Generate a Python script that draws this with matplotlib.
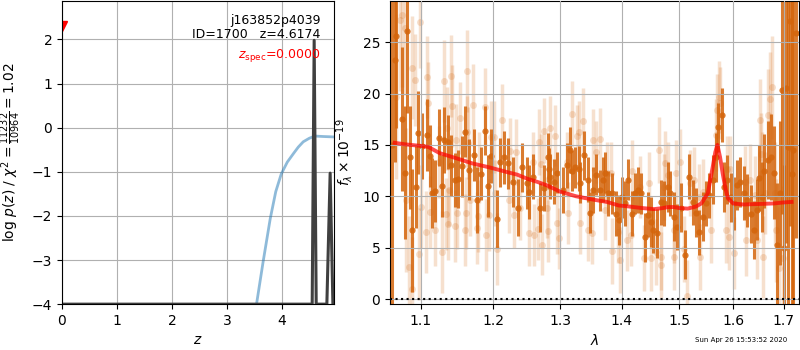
import matplotlib
matplotlib.use('Agg')
import matplotlib.pyplot as plt
from matplotlib.ticker import NullLocator

# ---- left panel: redshift PDF ----
z_chi2 = [3.45, 3.54, 3.66, 3.79, 3.89, 3.99, 4.10, 4.21, 4.30, 4.39, 4.50, 4.60, 4.75, 4.95]
logp_chi2 = [-4.6, -4.0, -3.04, -2.06, -1.45, -1.05, -0.78, -0.59, -0.44, -0.32, -0.24, -0.19, -0.20, -0.21]

z_pdf = [0.0, 4.553, 4.589, 4.626, 4.82, 4.88, 4.93, 4.95]
logp_pdf = [-4.0, -4.0, 1.98, -4.0, -4.0, -1.03, -4.0, -4.0]

z_spec = 0.0
target = 'j163852p4039'
obj_id = 1700
z_best = 4.6174

# ---- right panel: spectrum ----
# darker points
lam_a = [1.062, 1.066, 1.068, 1.075, 1.079, 1.082, 1.086, 1.089, 1.093, 1.096,
         1.101, 1.108, 1.1125, 1.115, 1.119, 1.124, 1.128, 1.131, 1.136, 1.140,
         1.146, 1.150, 1.156, 1.160, 1.165, 1.172, 1.176, 1.182, 1.1875, 1.192,
         1.197, 1.2045, 1.209, 1.215, 1.221, 1.228, 1.236, 1.242, 1.249, 1.252,
         1.258, 1.269, 1.275, 1.281, 1.282, 1.285, 1.291, 1.2955, 1.305, 1.310,
         1.316, 1.319, 1.324, 1.329, 1.332, 1.337, 1.3435, 1.347, 1.353, 1.3565,
         1.363, 1.368, 1.3725, 1.377, 1.384, 1.390, 1.395, 1.400, 1.405, 1.4105,
         1.4175, 1.423, 1.428, 1.433, 1.4385, 1.444, 1.449, 1.454, 1.461, 1.468,
         1.472, 1.479, 1.484, 1.4895, 1.4965, 1.502, 1.511, 1.517, 1.524, 1.530,
         1.535, 1.543, 1.548, 1.554, 1.561, 1.567, 1.572, 1.578, 1.5815, 1.589,
         1.596, 1.602, 1.608, 1.614, 1.620, 1.6275, 1.635, 1.641, 1.647, 1.651,
         1.657, 1.661, 1.669, 1.6745, 1.680, 1.686, 1.692, 1.696, 1.700, 1.704,
         1.708, 1.712, 1.716, 1.720, 1.725]
flux_a = [15.0, 23.3, 25.6, 17.5, 12.3, 26.1, 13.8, 6.7, 10.9, 16.2,
          14.9, 16.0, 13.9, 10.3, 10.5, 15.7, 11.0, 15.5, 15.3, 13.0,
          11.6, 11.7, 12.9, 16.3, 12.6, 14.0, 9.6, 12.2, 16.4, 11.0,
          13.9, 7.8, 13.3, 13.8, 13.2, 11.4, 8.9, 12.8, 11.3, 10.4,
          11.9, 8.9, 10.8, 13.8, 12.7, 11.9, 11.4, 12.3, 10.6, 13.0,
          14.5, 12.5, 12.8, 12.7, 11.3, 14.0, 11.6, 8.4, 10.6, 12.1,
          10.6, 11.6, 12.3, 10.3, 10.3, 8.3, 7.7, 9.9, 9.3, 11.6,
          8.3, 10.3, 10.6, 10.3, 6.0, 8.2, 7.5, 6.7, 6.4, 9.4,
          9.3, 10.9, 10.3, 8.0, 7.0, 8.9, 4.3, 11.9, 9.4, 8.4,
          6.5, 8.0, 9.3, 10.1, 11.6, 13.8, 16.7, 17.9, 10.9, 11.6,
          9.9, 9.3, 11.1, 11.4, 10.3, 9.6, 8.3, 6.7, 8.7, 11.8,
          9.9, 12.5, 13.5, 13.8, 12.3, 5.3, 10.3, 20.3, 5.0, 20.5,
          14.8, 27.1, 12.2, 14.5, 25.9]
err_a = [16.0, 10.0, 9.0, 7.0, 6.5, 8.0, 5.0, 6.0, 4.0, 4.0,
         3.2, 3.5, 3.0, 3.4, 3.0, 2.8, 3.0, 3.2, 2.6, 3.0,
         2.6, 2.8, 3.0, 2.5, 3.0, 2.5, 3.2, 2.6, 2.4, 3.0,
         2.6, 2.8, 2.4, 2.6, 2.5, 2.4, 2.8, 2.4, 2.5, 2.6,
         2.2, 2.4, 2.2, 2.4, 2.0, 2.2, 2.2, 2.0, 2.2, 2.2,
         2.2, 2.0, 2.0, 2.2, 2.0, 2.4, 2.2, 2.0, 2.2, 2.0,
         2.0, 2.2, 2.0, 2.2, 2.0, 2.2, 2.4, 2.0, 2.2, 2.0,
         2.2, 2.0, 2.2, 2.0, 2.4, 2.2, 2.4, 2.2, 2.4, 2.2,
         2.2, 2.4, 2.2, 2.4, 2.2, 2.4, 2.4, 2.2, 2.2, 2.4,
         2.2, 2.4, 2.2, 2.2, 2.4, 2.4, 2.4, 2.6, 2.4, 2.4,
         2.4, 2.6, 2.4, 2.4, 2.6, 2.6, 2.8, 2.8, 3.0, 3.2,
         3.4, 3.6, 3.8, 4.2, 4.5, 6.0, 7.0, 12.0, 8.0, 15.0,
         16.0, 20.0, 20.0, 20.0, 20.0]

# lighter points
lam_b = [1.068, 1.073, 1.076, 1.079, 1.080, 1.084, 1.088, 1.089, 1.092, 1.099,
         1.098, 1.100, 1.107, 1.108, 1.110, 1.1125, 1.119, 1.124, 1.128, 1.1306,
         1.133, 1.135, 1.136, 1.1375, 1.140, 1.1417, 1.146, 1.147, 1.1486, 1.153,
         1.160, 1.161, 1.1625, 1.163, 1.164, 1.1667, 1.171, 1.176, 1.178, 1.179,
         1.1875, 1.190, 1.194, 1.196, 1.2015, 1.203, 1.2045, 1.212, 1.2224, 1.224,
         1.230, 1.233, 1.239, 1.252, 1.258, 1.2597, 1.2657, 1.267, 1.270, 1.2716,
         1.2746, 1.279, 1.2806, 1.2836, 1.2925, 1.2955, 1.2985, 1.311, 1.313, 1.319,
         1.326, 1.329, 1.332, 1.3355, 1.345, 1.350, 1.353, 1.3565, 1.3645, 1.3726,
         1.376, 1.381, 1.3839, 1.3935, 1.3968, 1.4088, 1.4158, 1.4175, 1.430, 1.4368,
         1.4456, 1.449, 1.458, 1.463, 1.4667, 1.467, 1.472, 1.4737, 1.4789, 1.4895,
         1.491, 1.493, 1.5019, 1.509, 1.513, 1.5185, 1.526, 1.535, 1.537, 1.5426,
         1.5574, 1.5667, 1.570, 1.5725, 1.574, 1.587, 1.5889, 1.5926, 1.5944, 1.602,
         1.6235, 1.6255, 1.6333, 1.643, 1.647, 1.653, 1.655, 1.657, 1.659, 1.6627,
         1.6686, 1.6725, 1.6765, 1.6824, 1.684, 1.690, 1.698]
flux_b = [19.7, 27.2, 27.6, 26.4, 9.6, 3.1, 22.5, 1.0, 21.3, 27.0,
          4.4, 9.0, 6.5, 21.6, 19.1, 8.5, 6.7, 13.3, 4.6, 21.2,
          8.3, 16.6, 7.3, 10.6, 21.7, 18.8, 7.1, 15.5, 8.4, 17.6,
          6.7, 8.4, 22.2, 16.3, 15.2, 9.6, 18.9, 6.9, 8.1, 12.8,
          18.7, 6.2, 8.2, 15.8, 15.8, 10.3, 4.9, 17.4, 9.6, 14.4,
          8.2, 14.3, 8.9, 6.4, 13.3, 6.2, 6.8, 15.3, 13.1, 5.3,
          16.4, 8.9, 6.6, 16.6, 15.9, 7.4, 5.9, 13.3, 8.4, 18.0,
          15.9, 16.3, 7.4, 17.3, 6.7, 6.4, 15.5, 14.3, 15.6, 8.7,
          12.3, 12.3, 4.7, 6.5, 3.8, 5.7, 6.2, 12.5, 10.9, 4.0,
          11.3, 4.0, 4.6, 14.5, 4.1, 3.3, 10.9, 13.2, 12.1, 4.1,
          6.7, 12.3, 13.3, 4.9, 0.3, 11.3, 11.6, 9.9, 4.1, 10.4,
          6.7, 16.0, 18.4, 19.7, 19.1, 6.7, 12.7, 6.0, 12.7, 4.5,
          11.4, 5.7, 11.6, 10.1, 5.7, 17.4, 14.1, 12.3, 4.1, 10.3,
          17.9, 19.5, 20.6, 10.3, 6.7, 3.0, 4.0]
err_b = [8.0, 7.0, 7.0, 6.5, 7.0, 5.0, 5.0, 5.0, 4.5, 4.5,
         4.5, 4.0, 4.0, 4.0, 4.0, 3.5, 3.5, 3.5, 4.0, 4.0,
         3.5, 4.0, 3.5, 3.5, 4.0, 4.0, 3.5, 3.5, 3.5, 3.5,
         3.5, 3.5, 4.0, 3.5, 3.5, 3.5, 4.0, 3.5, 3.5, 3.5,
         3.8, 3.5, 3.5, 3.5, 3.5, 3.2, 3.5, 3.5, 3.2, 3.2,
         3.2, 3.2, 3.2, 3.2, 3.0, 3.0, 3.0, 3.2, 3.0, 3.0,
         3.2, 3.0, 3.0, 3.2, 3.0, 3.0, 3.0, 3.0, 3.0, 3.2,
         3.0, 3.0, 3.0, 3.2, 3.0, 3.0, 3.0, 3.0, 3.0, 3.0,
         3.0, 3.0, 3.2, 3.0, 3.2, 3.0, 3.0, 3.0, 3.0, 3.2,
         3.0, 3.2, 3.2, 3.2, 3.2, 3.2, 3.2, 3.2, 3.2, 3.2,
         3.2, 3.2, 3.2, 3.2, 3.5, 3.2, 3.2, 3.2, 3.2, 3.2,
         3.2, 3.5, 3.5, 3.5, 3.5, 3.2, 3.2, 3.2, 3.2, 3.5,
         3.5, 3.5, 3.5, 3.8, 3.8, 4.0, 4.0, 4.0, 4.0, 4.0,
         4.5, 4.5, 5.0, 5.0, 5.0, 6.0, 7.0]

# best-fit model
lam_model = [1.066, 1.08, 1.10, 1.11, 1.125, 1.15, 1.17, 1.195, 1.22, 1.235,
             1.25, 1.265, 1.28, 1.30, 1.325, 1.35, 1.375, 1.395, 1.405, 1.435,
             1.455, 1.47, 1.48, 1.49, 1.50, 1.515, 1.53, 1.54, 1.552, 1.561,
             1.566, 1.570, 1.575, 1.58, 1.585, 1.59, 1.60, 1.62, 1.65, 1.68,
             1.70, 1.716]
flux_model = [15.2, 15.05, 14.9, 14.8, 14.2, 13.65, 13.2, 12.8, 12.35, 12.1,
              11.7, 11.4, 11.05, 10.45, 10.0, 9.7, 9.45, 9.1, 9.05, 8.85,
              8.75, 8.85, 8.95, 8.95, 8.85, 8.8, 9.0, 9.3, 10.3, 12.8,
              14.3, 15.0, 13.8, 12.2, 10.8, 9.8, 9.3, 9.2, 9.25, 9.3,
              9.4, 9.45]

lam_ticks = [1.1, 1.2, 1.3, 1.4, 1.5, 1.6, 1.7]

spec_color = '#d4650c'

fig = plt.figure(figsize=(8, 3.5), dpi=100)

# left: p(z)
ax1 = fig.add_axes([0.0775, 0.131, 0.34, 0.866])
ax1.plot(z_chi2, logp_chi2, color='#1f77b4', alpha=0.5, lw=2)
ax1.plot(z_pdf, logp_pdf, color='#404040', lw=2.2)
ax1.plot([z_spec], [2.3], 'v', color='red', ms=7)
ax1.set_xlim(0, 4.95)
ax1.set_ylim(-4, 2.87)
ax1.set_yticks([-4, -3, -2, -1, 0, 1, 2])
ax1.set_xticks([0, 1, 2, 3, 4])
ax1.grid()
ax1.set_xlabel('$z$')
ax1.set_ylabel(r'log $p(z)$ / $\chi^2=\frac{11232}{10964}=1.02$')
ax1.yaxis.set_label_coords(-0.142, 0.5)

ax1.text(0.95, 0.937, target, ha='right', va='center', fontsize=9, transform=ax1.transAxes)
ax1.text(0.95, 0.888, 'ID={0}   z={1:.4f}'.format(obj_id, z_best), ha='right', va='center',
         fontsize=9, transform=ax1.transAxes)
ax1.text(0.95, 0.822, r'$z_\mathrm{spec}$' + '={0:.4f}'.format(z_spec), ha='right', va='center',
         fontsize=9, color='red', transform=ax1.transAxes)

# right: spectrum
ax2 = fig.add_axes([0.4875, 0.131, 0.511, 0.866])
ax2.errorbar(lam_b, flux_b, yerr=err_b, fmt='o', color=spec_color, alpha=0.2,
             ms=5, elinewidth=2.5, capsize=0, mew=0)
ax2.errorbar(lam_a, flux_a, yerr=err_a, fmt='o', color=spec_color, alpha=0.85,
             ms=4.5, elinewidth=2.2, capsize=0, mew=0)
ax2.plot(lam_model, flux_model, color='red', alpha=0.7, lw=2.8, zorder=4)
ax2.axhline(0, color='k', linestyle=':', lw=1.5, zorder=4)

ax2.set_xscale('log')
ax2.set_xlim(1.060, 1.731)
ax2.set_ylim(-0.5, 29)
ax2.set_xticks(lam_ticks)
ax2.set_xticklabels([str(t) for t in lam_ticks])
ax2.xaxis.set_minor_locator(NullLocator())
ax2.set_yticks([0, 5, 10, 15, 20, 25])
ax2.set_axisbelow(False)
ax2.grid()
ax2.set_xlabel(r'$\lambda$')
ax2.set_ylabel(r'$f_\lambda\times10^{-19}$')
ax2.yaxis.set_label_coords(-0.085, 0.5)

fig.text(0.984, 0.029, 'Sun Apr 26 15:53:52 2020', ha='right', va='center', fontsize=5)

fig.savefig('out.png', dpi=100)
